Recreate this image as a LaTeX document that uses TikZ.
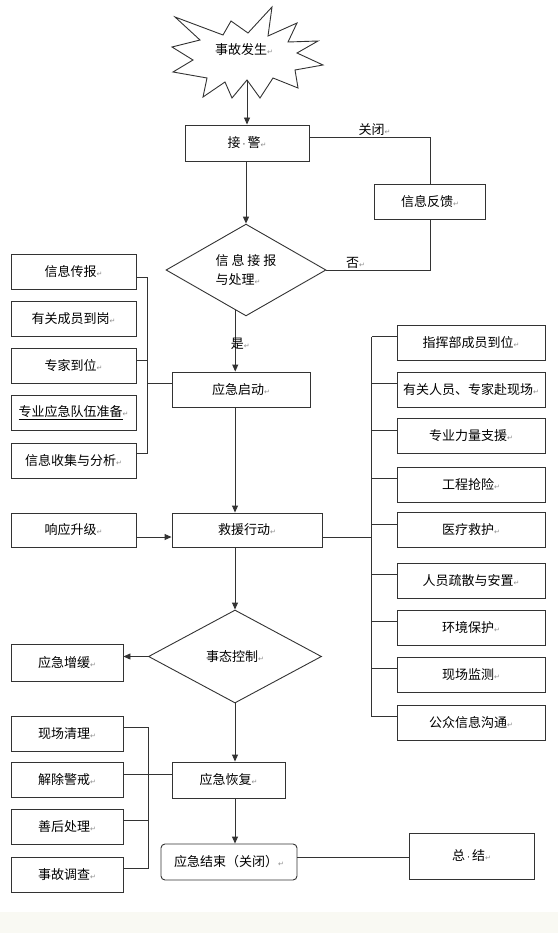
\documentclass[tikz,border=0pt]{standalone}
\usepackage{fontspec}
\usepackage{tikz}
\usetikzlibrary{shapes.geometric,arrows.meta}
\newfontfamily\cjk{Noto Sans CJK SC}
\newfontfamily\retfont{DejaVu Sans}
\newcommand\parmark{{\retfont\fontsize{7}{7}\selectfont\textcolor{black!45}{↵}}}
\newcommand\spcdot{\hspace{2pt}{\retfont\fontsize{9}{9}\selectfont·}\hspace{2pt}}
\definecolor{strip}{HTML}{F9F9F3}
\tikzset{
  txt/.style={inner sep=0pt, font=\cjk\fontsize{13}{16}\selectfont},
  box/.style={txt, draw=black!80, line width=0.9pt, minimum height=35pt},
  dmd/.style={box, diamond},
  lbl/.style={txt, inner sep=1pt},
  link/.style={draw=black!80, line width=0.9pt},
  arr/.style={link, -{Triangle[length=7pt,width=6pt]}}
}
\begin{document}
\begin{tikzpicture}[x=1pt,y=-1pt]
            \useasboundingbox (0,0) rectangle (558,933);
            \fill[strip] (0,912) rectangle (558,933);
            \draw[link] (175,17) -- (223,35) -- (231,21) -- (248,33) -- (272,7) -- (268,36) -- (297,23) -- (288,42) -- (318,41) -- (297,53) -- (323,65) -- (295,70) -- (298,88) -- (273,78) -- (260,98) -- (247,80) -- (232,98) -- (225,82) -- (203,97) -- (207,78) -- (173,72) -- (193,60) -- (172,47) -- (200,40) -- cycle;
            \node[txt] (start) at (244,50) {事故发生\parmark};
            \coordinate (sbot) at (247,80);
            \coordinate (col) at (235,0);

            \node[box, minimum width=124pt, minimum height=36pt] (jj) at (247,143) {接\spcdot 警\parmark};
            \node[box, minimum width=111pt] (fk) at (430,201.5) {信息反馈\parmark};
            \node[dmd, minimum width=160pt, minimum height=82pt, align=left, font=\cjk\fontsize{13}{19}\selectfont] (xx) at (246,270) {信 息 接 报\\与处理\parmark};
            \node[box, minimum width=138pt] (qd) at (241,389.5) {应急启动\parmark};
            \foreach \t/\y [count=\i] in {信息传报/271.5, 有关成员到岗/319, 专家到位/366, {\underline{专业应急队伍准备}}/413, 信息收集与分析/460.5}
                \node[box, minimum width=125pt] (l\i) at (73.5,\y) {\t\parmark};
            \foreach \t/\y [count=\i] in {指挥部成员到位/342.5, 有关人员、专家赴现场/389.5, 专业力量支援/436, 工程抢险/484.5, 医疗救护/530, 人员疏散与安置/580.5, 环境保护/627.5, 现场监测/674.5, 公众信息沟通/722.5}
                \node[box, minimum width=148pt] (r\i) at (471,\y) {\t\parmark};
            \node[box, minimum width=125pt, minimum height=34pt] (sj) at (73.5,530) {响应升级\parmark};
            \node[box, minimum width=150pt, minimum height=34pt] (jy) at (247,530) {救援行动\parmark};
            \node[dmd, minimum width=173pt, minimum height=93pt] (tk) at (235,656.5) {事态控制\parmark};
            \node[box, minimum width=112pt, minimum height=37pt] (zh) at (67,662.5) {应急增缓\parmark};
            \foreach \t/\y [count=\i] in {现场清理/733.5, 解除警戒/780, 善后处理/826.5, 事故调查/874.5}
                \node[box, minimum width=112pt] (b\i) at (67,\y) {\t\parmark};
            \node[box, minimum width=113pt, minimum height=36pt] (hf) at (228.5,780) {应急恢复\parmark};
            \node[box, rounded corners=4pt, minimum width=136pt, minimum height=36pt] (js) at (229,862) {应急结束（关闭）\parmark};
            \node[box, minimum width=125pt, minimum height=46pt] (zj) at (471.5,856) {总\spcdot 结\parmark};

            \draw[arr] (sbot) -- (sbot |- jj.north);
            \draw[arr] (jj.south -| xx.north) -- (xx.north);
            \draw[link] ([yshift=6pt]jj.east) -| (fk.north)node[lbl, pos=0.27, above]{关闭\parmark};
            \draw[link] (fk.south) |- (xx.east)node[lbl, pos=0.86, above]{否\parmark};
            \draw[arr] (xx.255) -- (xx.255 |- qd.north)node[lbl, pos=0.55, xshift=5pt]{是\parmark};
            \draw[link] ([yshift=-6pt]l1.east) -| ([xshift=11pt,yshift=7pt]l5.east) -- ([yshift=7pt]l5.east);
            \draw[link] ([yshift=6pt]l3.east) -- ++(11,0);
            \draw[link] ([yshift=6pt]qd.west) -- ++(-25,0);
            \draw[arr] (qd.south -| col) -- (jy.north -| col);
            \draw[arr] ([yshift=-7pt]sj.east) -- ([yshift=-7pt]jy.west);
            \draw[link] ([yshift=-7pt]jy.east) -- ++(50,0);
            \foreach \i in {1,...,9}
                \draw[link] ([yshift=6pt]r\i.west) -- ++(-25,0);
            \draw[link] ([xshift=-25pt,yshift=6pt]r1.west) -- ([xshift=-25pt,yshift=6pt]r9.west);
            \draw[arr] (jy.south -| col) -- (tk.north);
            \draw[arr] (tk.west) -- (zh.east |- tk.west);
            \draw[arr] (tk.south) -- (hf.north -| tk.south);
            \draw[link] ([yshift=6pt]b1.east) -| ([xshift=25pt,yshift=6pt]b4.east) -- ([yshift=6pt]b4.east);
            \draw[link] ([yshift=6pt]b3.east) -- ++(25,0);
            \draw[link] ([yshift=6pt]b2.east) -- ([yshift=6pt]hf.west);
            \draw[arr] (hf.south -| col) -- (js.north -| col);
            \draw[link] ([yshift=5pt]js.east) -- ([yshift=-1pt]zj.west);
        \end{tikzpicture}
\end{document}
